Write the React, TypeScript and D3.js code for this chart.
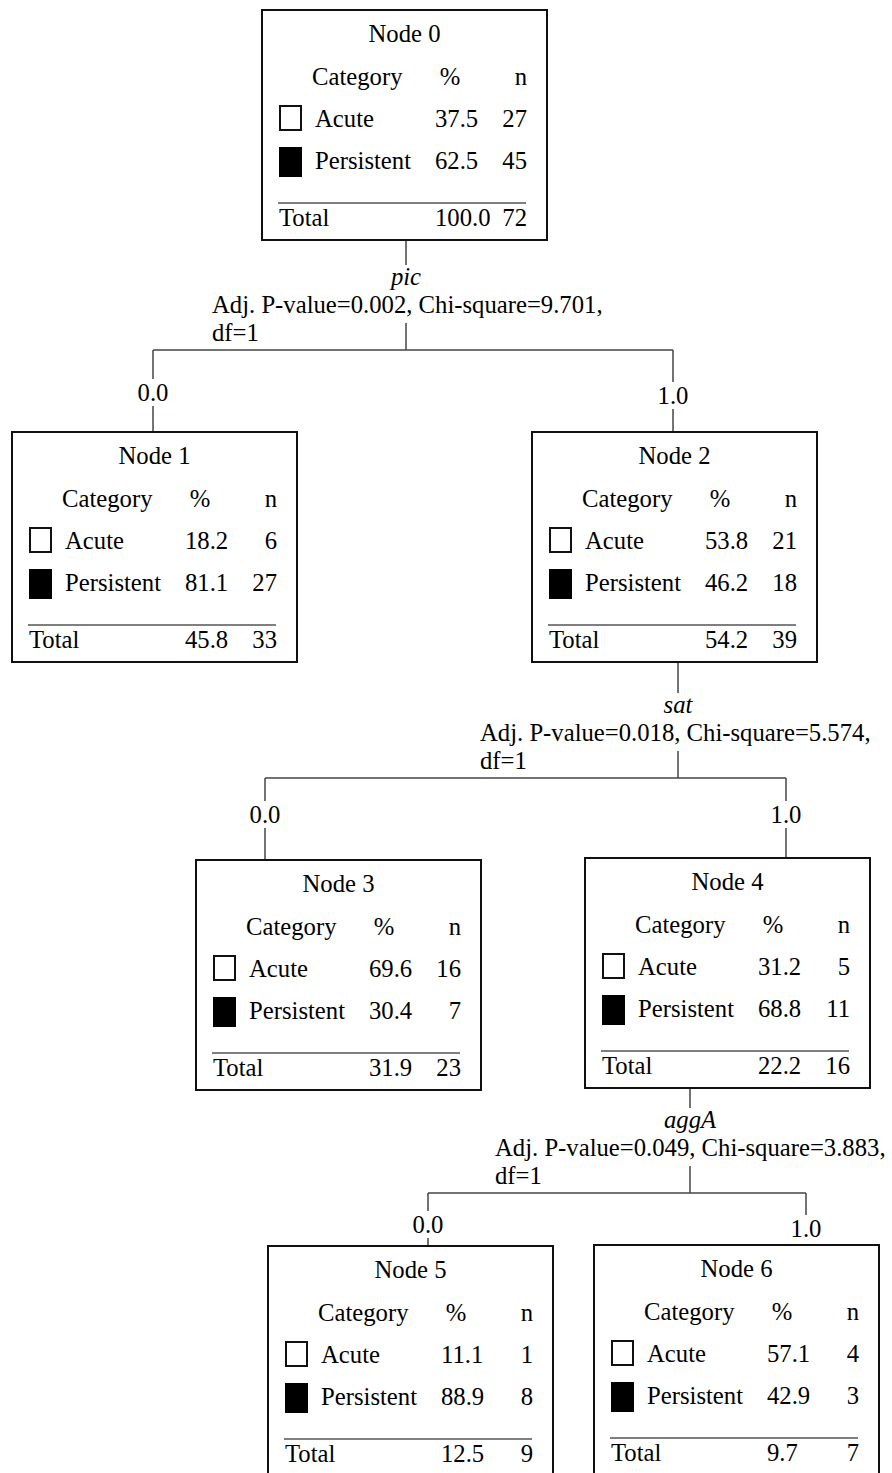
import { useEffect, useRef } from 'react';
import * as d3 from 'd3';

// node table values (index = node id)
const nodeIds = [0, 1, 2, 3, 4, 5, 6];
const categories = ['Acute', 'Persistent'];
const acutePct = [37.5, 18.2, 53.8, 69.6, 31.2, 11.1, 57.1];
const acuteN = [27, 6, 21, 16, 5, 1, 4];
const persistentPct = [62.5, 81.1, 46.2, 30.4, 68.8, 88.9, 42.9];
const persistentN = [45, 27, 18, 7, 11, 8, 3];
const totalPct = [100.0, 45.8, 54.2, 31.9, 22.2, 12.5, 9.7];
const totalN = [72, 33, 39, 23, 16, 9, 7];

// splits
const splitParents = [0, 2, 4];
const splitVars = ['pic', 'sat', 'aggA'];
const splitP = ['0.002', '0.018', '0.049'];
const splitChi = ['9.701', '5.574', '3.883'];
const splitDf = [1, 1, 1];
const splitChildren = [[1, 2], [3, 4], [5, 6]];
const branchLabels = ['0.0', '1.0'];

// layout (page pixels)
const boxX = [262, 12, 532, 196, 585, 268, 594];
const boxY = [10, 432, 432, 860, 858, 1246, 1245];
const boxW = 285;
const boxH = 230;
const stemX = [406, 678, 690];
const barY = [350, 778, 1193];
const textX = [212, 480, 495];
const childX = [[153, 673], [265, 786], [428, 806]];
const branchY = [[401, 404], [823, 823], [1233, 1237]];

const W = 892;
const H = 1473;
const FONT = 'Liberation Serif';

export default function App() {
  const svgRef = useRef<SVGSVGElement>(null);

  useEffect(() => {
    if (!svgRef.current) return;
    const svg = d3.select(svgRef.current);
    svg.selectAll('*').remove();

    const fmt = d3.format('.1f');
    const lineColor = '#444';
    const ink = '#000';

    const text = (g: any, x: number, y: number, s: string, anchor = 'start', italic = false) =>
      g.append('text')
        .attr('x', x)
        .attr('y', y)
        .attr('text-anchor', anchor)
        .attr('font-family', FONT)
        .attr('font-size', 24.7)
        .attr('font-style', italic ? 'italic' : 'normal')
        .attr('fill', ink)
        .text(s);

    // Connectors
    splitParents.forEach((p, i) => {
      const g = svg.append('g');
      const sx = stemX[i];
      const by = barY[i];
      const bottom = boxY[p] + boxH;
      const varY = by - 65;

      g.append('line').attr('x1', sx).attr('x2', sx).attr('y1', bottom).attr('y2', varY - 20)
        .style('stroke', lineColor).style('stroke-width', 1.5);
      text(g, sx, varY, splitVars[i], 'middle', true);
      text(g, textX[i], by - 37, `Adj. P-value=${splitP[i]}, Chi-square=${splitChi[i]},`);
      text(g, textX[i], by - 9, `df=${splitDf[i]}`);
      g.append('line').attr('x1', sx).attr('x2', sx).attr('y1', by - 27).attr('y2', by)
        .style('stroke', lineColor).style('stroke-width', 1.5);
      g.append('line').attr('x1', childX[i][0]).attr('x2', childX[i][1]).attr('y1', by).attr('y2', by)
        .style('stroke', lineColor).style('stroke-width', 1.5);

      splitChildren[i].forEach((c, j) => {
        const cx = childX[i][j];
        const ly = branchY[i][j];
        g.append('line').attr('x1', cx).attr('x2', cx).attr('y1', by).attr('y2', ly - 22)
          .style('stroke', lineColor).style('stroke-width', 1.5);
        text(g, cx, ly, branchLabels[j], 'middle');
        if (boxY[c] - (ly + 5) > 6) {
          g.append('line').attr('x1', cx).attr('x2', cx).attr('y1', ly + 5).attr('y2', boxY[c])
            .style('stroke', lineColor).style('stroke-width', 1.5);
        }
      });
    });

    // Node boxes
    nodeIds.forEach((id) => {
      const g = svg.append('g').attr('transform', `translate(${boxX[id]},${boxY[id]})`);
      g.append('rect')
        .attr('x', 0).attr('y', 0).attr('width', boxW).attr('height', boxH)
        .style('fill', '#fff').style('stroke', '#111').style('stroke-width', 2);

      text(g, boxW / 2, 32, `Node ${id}`, 'middle');
      text(g, 50, 75, 'Category');
      text(g, 188, 75, '%', 'middle');
      text(g, 265, 75, 'n', 'end');

      const rows = [
        { label: categories[0], pct: acutePct[id], n: acuteN[id], y: 117 },
        { label: categories[1], pct: persistentPct[id], n: persistentN[id], y: 159 },
      ];
      rows.forEach((r, k) => {
        if (k === 0) {
          g.append('rect').attr('x', 18).attr('y', 96).attr('width', 21).attr('height', 24)
            .style('fill', '#fff').style('stroke', '#111').style('stroke-width', 2);
        } else {
          g.append('rect').attr('x', 17).attr('y', 137).attr('width', 23).attr('height', 30)
            .style('fill', '#000');
        }
        text(g, 53, r.y, r.label);
        text(g, 173, r.y, fmt(r.pct));
        text(g, 265, r.y, String(r.n), 'end');
      });

      g.append('line').attr('x1', 16).attr('x2', 264).attr('y1', 193).attr('y2', 193)
        .style('stroke', '#555').style('stroke-width', 1.5);
      text(g, 17, 216, 'Total');
      text(g, 173, 216, fmt(totalPct[id]));
      text(g, 265, 216, String(totalN[id]), 'end');
    });
  }, []);

  return (
    <div style={{ position: 'absolute', left: 0, top: 0, width: W, height: H, background: '#fff' }}>
      <svg ref={svgRef} width={W} height={H} style={{ display: 'block' }} />
    </div>
  );
}
